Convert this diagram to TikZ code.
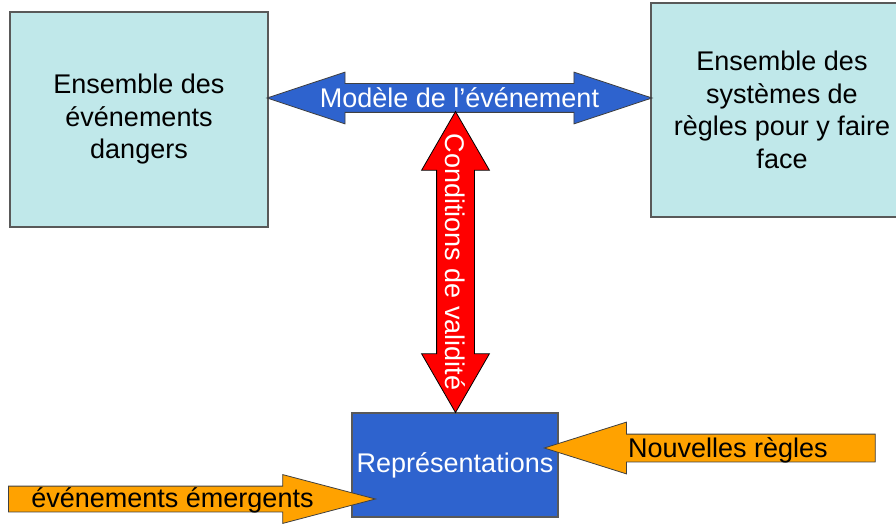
\documentclass[tikz,border=0pt]{standalone}
\usepackage{fontspec}
\setmainfont{Liberation Sans}
\usetikzlibrary{shapes.arrows}
\definecolor{boxcyan}{RGB}{192,232,234}
\definecolor{repblue}{RGB}{46,99,206}
\definecolor{orng}{RGB}{255,162,0}

\begin{document}
\begin{tikzpicture}[x=1pt,y=1pt,
  every node/.style={font=\fontsize{27}{32.5}\selectfont},
  boite/.style={draw=black!65,line width=1.2pt,fill=boxcyan,align=center,inner sep=0pt},
  fleche/.style={draw=black!75,line width=0.8pt,inner sep=0pt,text height=#1,text depth=#1}]
\path[use as bounding box,clip] (0,0) rectangle (896,523);
\node[boite,minimum width=258pt,minimum height=215pt] (danger) at (139,403.5) {Ensemble des\\événements\\dangers};
\node[boite,minimum width=262pt,minimum height=214pt] (regles) at (782,413) {Ensemble des\\systèmes de\\règles pour y faire\\face};
\node[boite,fill=repblue,text=white,minimum width=206pt,minimum height=104pt] (repres) at (455,58) {Représentations};
\node[fleche=14pt,fill=repblue,double arrow,double arrow head extend=11.5pt,double arrow tip angle=36.7,
  minimum height=385pt,label={[text=white]center:Modèle de l’événement}] (modele) at (459.5,425) {};
\node[fleche=18.5pt,fill=red,draw=black,double arrow,rotate=-90,double arrow head extend=15pt,double arrow tip angle=60,
  minimum height=301pt,label={[text=white,rotate=-90]center:Conditions de validité}] (validite) at (455.5,261) {};
\node[fleche=13.5pt,fill=orng,single arrow,shape border rotate=180,single arrow head extend=12pt,single arrow tip angle=35,
  minimum height=331pt,anchor=tip] (nouv) at (543,75) {};
\node[fleche=12.5pt,fill=orng,single arrow,single arrow head extend=11.5pt,single arrow tip angle=29.5,
  minimum height=367pt,anchor=tip] (emerg) at (377,24) {};
\node (nouvtxt) at (728,73) {Nouvelles règles};
\node (emergtxt) at (172.5,23) {événements émergents};
\end{tikzpicture}
\end{document}
